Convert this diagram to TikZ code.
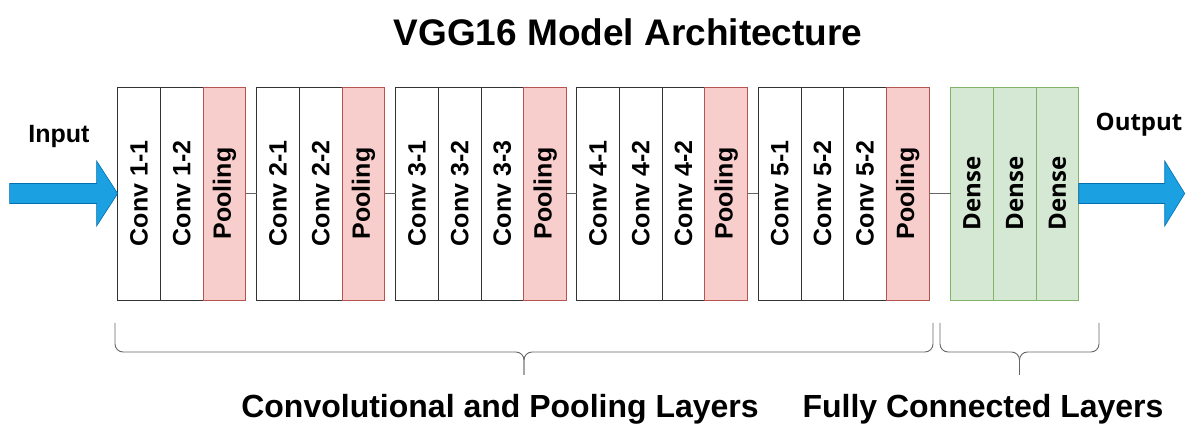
\documentclass[tikz,border=0pt]{standalone}
\usepackage{fontspec}
\setmainfont{Liberation Sans}
\newfontfamily\osans{Open Sans}
\definecolor{poolF}{HTML}{F8CECC}
\definecolor{poolD}{HTML}{B85450}
\definecolor{denseF}{HTML}{D5E8D4}
\definecolor{denseD}{HTML}{82B366}
\definecolor{arrF}{HTML}{1BA1E2}
\definecolor{arrD}{HTML}{006EAF}
\newcommand\vlab[1]{\rotatebox{90}{#1}}
\begin{document}
\begin{tikzpicture}[x=1pt,y=-1pt,
  cell/.style={draw=black!80, fill=white, minimum width=42.7pt, minimum height=213pt,
    inner sep=0pt, outer sep=0pt, line width=0.8pt, font=\bfseries\fontsize{25}{30}\selectfont},
  pool/.style={cell, draw=poolD, fill=poolF},
  densebox/.style={cell, draw=denseD, fill=denseF, font=\osans\bfseries\fontsize{24}{28}\selectfont},
  link/.style={draw=black!60, line width=0.8pt},
  bracepath/.style={draw=black!60, line width=0.9pt, rounded corners=8pt},
  bigarrow/.style={fill=arrF, draw=arrD, line width=0.6pt},
  lab/.style={anchor=base, inner sep=0pt, font=\bfseries\fontsize{25}{30}\selectfont},
  biglab/.style={anchor=base, inner sep=0pt, font=\bfseries\fontsize{32}{38}\selectfont}]
\useasboundingbox (0,0) rectangle (1187,427);

% title
\node[anchor=base, inner sep=0pt, font=\bfseries\fontsize{37}{44}\selectfont] (title) at (628,46) {VGG16 Model Architecture};

% block 1
\node[cell] (c11) at (139.0,193.5) {\vlab{Conv 1-1}};
\node[cell] (c12) at (181.7,193.5) {\vlab{Conv 1-2}};
\node[pool] (p1) at (224.4,193.5) {\vlab{Pooling}};
% block 2
\node[cell] (c21) at (278.0,193.5) {\vlab{Conv 2-1}};
\node[cell] (c22) at (320.7,193.5) {\vlab{Conv 2-2}};
\node[pool] (p2) at (363.4,193.5) {\vlab{Pooling}};
% block 3
\node[cell] (c31) at (417.0,193.5) {\vlab{Conv 3-1}};
\node[cell] (c32) at (459.7,193.5) {\vlab{Conv 3-2}};
\node[cell] (c33) at (502.4,193.5) {\vlab{Conv 3-3}};
\node[pool] (p3) at (545.1,193.5) {\vlab{Pooling}};
% block 4
\node[cell] (c41) at (598.0,193.5) {\vlab{Conv 4-1}};
\node[cell] (c42) at (640.7,193.5) {\vlab{Conv 4-2}};
\node[cell] (c43) at (683.4,193.5) {\vlab{Conv 4-2}};
\node[pool] (p4) at (726.1,193.5) {\vlab{Pooling}};
% block 5
\node[cell] (c51) at (779.7,193.5) {\vlab{Conv 5-1}};
\node[cell] (c52) at (822.4,193.5) {\vlab{Conv 5-2}};
\node[cell] (c53) at (865.1,193.5) {\vlab{Conv 5-2}};
\node[pool] (p5) at (907.8,193.5) {\vlab{Pooling}};
% dense
\node[densebox] (d1) at (972.0,193.5) {\vlab{Dense}};
\node[densebox] (d2) at (1014.7,193.5) {\vlab{Dense}};
\node[densebox] (d3) at (1057.4,193.5) {\vlab{Dense}};

% links between blocks
\draw[link] (p1.east) -- (c21.west);
\draw[link] (p2.east) -- (c31.west);
\draw[link] (p3.east) -- (c41.west);
\draw[link] (p4.east) -- (c51.west);
\draw[link] (p5.east) -- (d1.west);

% input arrow
\begin{scope}[shift={(c11.west)}]
\filldraw[bigarrow] (0,0) -- (-21,-32.5) -- (-21,-10) -- (-108,-10) -- (-108,10) -- (-21,10) -- (-21,32.5) -- cycle;
\end{scope}
% output arrow
\begin{scope}[shift={(d3.east)}]
\filldraw[bigarrow] (0,-10) -- (86,-10) -- (86,-32.5) -- (106,0) -- (86,32.5) -- (86,10) -- (0,10) -- cycle;
\end{scope}

\node[lab] (inlab) at (59,143) {Input};
\node[lab, font=\osans\bfseries\fontsize{24}{28}\selectfont] (outlab) at (1139,131) {Output};

% braces
\coordinate (b1l) at (115,323);
\coordinate (b1r) at (933,323);
\coordinate (b1t) at (524,375);
\draw[bracepath] (b1l) -- (b1l |- 0,352) -- (b1t |- 0,352) -- (b1t);
\draw[bracepath] (b1r) -- (b1r |- 0,352) -- (b1t |- 0,352) -- (b1t);
\coordinate (b2l) at (940,323);
\coordinate (b2r) at (1099,323);
\coordinate (b2t) at (1019.5,375);
\draw[bracepath] (b2l) -- (b2l |- 0,352) -- (b2t |- 0,352) -- (b2t);
\draw[bracepath] (b2r) -- (b2r |- 0,352) -- (b2t |- 0,352) -- (b2t);

\node[biglab] (convlab) at (500,418) {Convolutional and Pooling Layers};
\node[biglab] (fclab) at (983,418) {Fully Connected Layers};
\end{tikzpicture}
\end{document}
